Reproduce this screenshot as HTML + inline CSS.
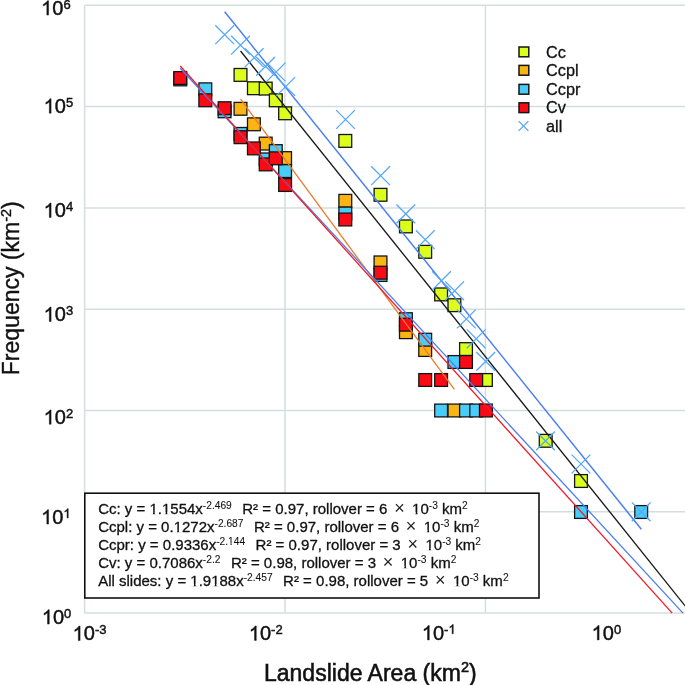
<!DOCTYPE html>
<html><head><meta charset="utf-8"><style>
html,body{margin:0;padding:0;background:#fff;}
svg{display:block;will-change:transform;filter:blur(0.4px);}
</style></head><body>
<svg width="685" height="685" viewBox="0 0 685 685">
<rect width="685" height="685" fill="#fff"/>
<g stroke="#d3dfdd" stroke-width="1.5"><line x1="84.6" y1="613.10" x2="690" y2="613.10"/><line x1="84.6" y1="511.80" x2="690" y2="511.80"/><line x1="84.6" y1="410.50" x2="690" y2="410.50"/><line x1="84.6" y1="309.20" x2="690" y2="309.20"/><line x1="84.6" y1="207.90" x2="690" y2="207.90"/><line x1="84.6" y1="106.60" x2="690" y2="106.60"/><line x1="84.6" y1="5.30" x2="690" y2="5.30"/><line x1="84.60" y1="5.30" x2="84.60" y2="613.10"/><line x1="285.00" y1="5.30" x2="285.00" y2="613.10"/><line x1="485.40" y1="5.30" x2="485.40" y2="613.10"/></g>
<g><rect x="234.10" y="68.50" width="12.8" height="12.8" fill="#dbfe1c" stroke="#151515" stroke-width="1.3"/><rect x="247.50" y="81.85" width="12.8" height="12.8" fill="#dbfe1c" stroke="#151515" stroke-width="1.3"/><rect x="259.30" y="82.20" width="12.8" height="12.8" fill="#dbfe1c" stroke="#151515" stroke-width="1.3"/><rect x="269.40" y="93.90" width="12.8" height="12.8" fill="#dbfe1c" stroke="#151515" stroke-width="1.3"/><rect x="278.70" y="106.90" width="12.8" height="12.8" fill="#dbfe1c" stroke="#151515" stroke-width="1.3"/><rect x="338.90" y="134.50" width="12.8" height="12.8" fill="#dbfe1c" stroke="#151515" stroke-width="1.3"/><rect x="374.10" y="188.40" width="12.8" height="12.8" fill="#dbfe1c" stroke="#151515" stroke-width="1.3"/><rect x="399.50" y="220.00" width="12.8" height="12.8" fill="#dbfe1c" stroke="#151515" stroke-width="1.3"/><rect x="418.80" y="245.40" width="12.8" height="12.8" fill="#dbfe1c" stroke="#151515" stroke-width="1.3"/><rect x="434.70" y="288.00" width="12.8" height="12.8" fill="#dbfe1c" stroke="#151515" stroke-width="1.3"/><rect x="448.00" y="298.80" width="12.8" height="12.8" fill="#dbfe1c" stroke="#151515" stroke-width="1.3"/><rect x="459.60" y="342.70" width="12.8" height="12.8" fill="#dbfe1c" stroke="#151515" stroke-width="1.3"/><rect x="479.50" y="373.60" width="12.8" height="12.8" fill="#dbfe1c" stroke="#151515" stroke-width="1.3"/><rect x="539.30" y="434.40" width="12.8" height="12.8" fill="#dbfe1c" stroke="#151515" stroke-width="1.3"/><rect x="574.60" y="474.60" width="12.8" height="12.8" fill="#dbfe1c" stroke="#151515" stroke-width="1.3"/><rect x="234.10" y="102.40" width="12.8" height="12.8" fill="#fab414" stroke="#151515" stroke-width="1.3"/><rect x="247.50" y="117.90" width="12.8" height="12.8" fill="#fab414" stroke="#151515" stroke-width="1.3"/><rect x="259.30" y="137.20" width="12.8" height="12.8" fill="#fab414" stroke="#151515" stroke-width="1.3"/><rect x="278.70" y="151.70" width="12.8" height="12.8" fill="#fab414" stroke="#151515" stroke-width="1.3"/><rect x="338.90" y="194.40" width="12.8" height="12.8" fill="#fab414" stroke="#151515" stroke-width="1.3"/><rect x="374.10" y="256.00" width="12.8" height="12.8" fill="#fab414" stroke="#151515" stroke-width="1.3"/><rect x="399.50" y="325.80" width="12.8" height="12.8" fill="#fab414" stroke="#151515" stroke-width="1.3"/><rect x="418.80" y="343.60" width="12.8" height="12.8" fill="#fab414" stroke="#151515" stroke-width="1.3"/><rect x="448.00" y="404.10" width="12.8" height="12.8" fill="#fab414" stroke="#151515" stroke-width="1.3"/><rect x="173.85" y="73.00" width="12.8" height="12.8" fill="#48ccf8" stroke="#151515" stroke-width="1.3"/><rect x="198.90" y="82.90" width="12.8" height="12.8" fill="#48ccf8" stroke="#151515" stroke-width="1.3"/><rect x="218.20" y="104.90" width="12.8" height="12.8" fill="#48ccf8" stroke="#151515" stroke-width="1.3"/><rect x="234.10" y="127.50" width="12.8" height="12.8" fill="#48ccf8" stroke="#151515" stroke-width="1.3"/><rect x="259.30" y="153.00" width="12.8" height="12.8" fill="#48ccf8" stroke="#151515" stroke-width="1.3"/><rect x="269.40" y="144.70" width="12.8" height="12.8" fill="#48ccf8" stroke="#151515" stroke-width="1.3"/><rect x="278.70" y="164.70" width="12.8" height="12.8" fill="#48ccf8" stroke="#151515" stroke-width="1.3"/><rect x="338.90" y="207.10" width="12.8" height="12.8" fill="#48ccf8" stroke="#151515" stroke-width="1.3"/><rect x="374.10" y="268.60" width="12.8" height="12.8" fill="#48ccf8" stroke="#151515" stroke-width="1.3"/><rect x="399.50" y="312.80" width="12.8" height="12.8" fill="#48ccf8" stroke="#151515" stroke-width="1.3"/><rect x="418.80" y="333.30" width="12.8" height="12.8" fill="#48ccf8" stroke="#151515" stroke-width="1.3"/><rect x="434.70" y="404.10" width="12.8" height="12.8" fill="#48ccf8" stroke="#151515" stroke-width="1.3"/><rect x="448.00" y="355.60" width="12.8" height="12.8" fill="#48ccf8" stroke="#151515" stroke-width="1.3"/><rect x="459.60" y="404.10" width="12.8" height="12.8" fill="#48ccf8" stroke="#151515" stroke-width="1.3"/><rect x="469.80" y="404.10" width="12.8" height="12.8" fill="#48ccf8" stroke="#151515" stroke-width="1.3"/><rect x="574.60" y="505.60" width="12.8" height="12.8" fill="#48ccf8" stroke="#151515" stroke-width="1.3"/><rect x="634.80" y="505.60" width="12.8" height="12.8" fill="#48ccf8" stroke="#151515" stroke-width="1.3"/><rect x="173.85" y="71.60" width="12.8" height="12.8" fill="#fa0a14" stroke="#151515" stroke-width="1.3"/><rect x="198.90" y="93.90" width="12.8" height="12.8" fill="#fa0a14" stroke="#151515" stroke-width="1.3"/><rect x="218.20" y="101.80" width="12.8" height="12.8" fill="#fa0a14" stroke="#151515" stroke-width="1.3"/><rect x="234.10" y="130.80" width="12.8" height="12.8" fill="#fa0a14" stroke="#151515" stroke-width="1.3"/><rect x="247.50" y="142.00" width="12.8" height="12.8" fill="#fa0a14" stroke="#151515" stroke-width="1.3"/><rect x="259.30" y="158.00" width="12.8" height="12.8" fill="#fa0a14" stroke="#151515" stroke-width="1.3"/><rect x="269.40" y="151.90" width="12.8" height="12.8" fill="#fa0a14" stroke="#151515" stroke-width="1.3"/><rect x="278.70" y="178.60" width="12.8" height="12.8" fill="#fa0a14" stroke="#151515" stroke-width="1.3"/><rect x="338.90" y="213.10" width="12.8" height="12.8" fill="#fa0a14" stroke="#151515" stroke-width="1.3"/><rect x="374.10" y="266.30" width="12.8" height="12.8" fill="#fa0a14" stroke="#151515" stroke-width="1.3"/><rect x="399.50" y="318.30" width="12.8" height="12.8" fill="#fa0a14" stroke="#151515" stroke-width="1.3"/><rect x="418.80" y="373.60" width="12.8" height="12.8" fill="#fa0a14" stroke="#151515" stroke-width="1.3"/><rect x="434.70" y="373.60" width="12.8" height="12.8" fill="#fa0a14" stroke="#151515" stroke-width="1.3"/><rect x="459.60" y="355.60" width="12.8" height="12.8" fill="#fa0a14" stroke="#151515" stroke-width="1.3"/><rect x="469.80" y="373.60" width="12.8" height="12.8" fill="#fa0a14" stroke="#151515" stroke-width="1.3"/><rect x="479.50" y="404.10" width="12.8" height="12.8" fill="#fa0a14" stroke="#151515" stroke-width="1.3"/></g>
<g><line x1="240.54" y1="51.04" x2="701.67" y2="626.55" stroke="#1a1a1a" stroke-width="1.35"/><line x1="240.54" y1="99.04" x2="454.36" y2="389.46" stroke="#f07a2c" stroke-width="1.3"/><line x1="180.22" y1="68.19" x2="683.01" y2="613.10" stroke="#4a7ef0" stroke-width="1.3"/><line x1="180.22" y1="66.01" x2="672.17" y2="613.10" stroke="#ee1c2a" stroke-width="1.3"/><line x1="224.67" y1="11.72" x2="641.34" y2="529.21" stroke="#4a7ef2" stroke-width="1.5"/></g>
<g stroke="#55a8f8" stroke-width="1.3" fill="none"><path d="M215.30 25.30L234.10 44.10M215.30 44.10L234.10 25.30"/><path d="M231.10 35.80L249.90 54.60M231.10 54.60L249.90 35.80"/><path d="M244.80 48.30L263.60 67.10M244.80 67.10L263.60 48.30"/><path d="M256.20 57.00L275.00 75.80M256.20 75.80L275.00 57.00"/><path d="M266.70 62.60L285.50 81.40M266.70 81.40L285.50 62.60"/><path d="M276.30 77.10L295.10 95.90M276.30 95.90L295.10 77.10"/><path d="M336.10 110.10L354.90 128.90M336.10 128.90L354.90 110.10"/><path d="M371.20 166.30L390.00 185.10M371.20 185.10L390.00 166.30"/><path d="M396.40 204.50L415.20 223.30M396.40 223.30L415.20 204.50"/><path d="M415.90 230.30L434.70 249.10M415.90 249.10L434.70 230.30"/><path d="M432.10 271.30L450.90 290.10M432.10 290.10L450.90 271.30"/><path d="M445.20 281.40L464.00 300.20M445.20 300.20L464.00 281.40"/><path d="M456.90 309.60L475.70 328.40M456.90 328.40L475.70 309.60"/><path d="M466.80 329.40L485.60 348.20M466.80 348.20L485.60 329.40"/><path d="M476.30 352.00L495.10 370.80M476.30 370.80L495.10 352.00"/><path d="M536.10 431.50L554.90 450.30M536.10 450.30L554.90 431.50"/><path d="M571.60 454.60L590.40 473.40M571.60 473.40L590.40 454.60"/><path d="M631.80 502.40L650.60 521.20M631.80 521.20L650.60 502.40"/></g>
<rect x="84.8" y="493.2" width="454.2" height="104.8" fill="#fff" stroke="#111" stroke-width="1.6"/>
<g fill="#111" stroke="#111" stroke-width="0.3"><text x="98.2" y="514.00" style="font-family:'Liberation Sans',sans-serif;font-size:15px" xml:space="preserve">Cc: y = 1.1554x<tspan dy="-5" style="font-size:10.2px;stroke-width:0.08">-2.469</tspan><tspan dy="5" dx="2.2">  R² = 0.97, rollover = 6 </tspan><tspan dx="2.6" style="font-size:18px;fill:#222;stroke:none">×</tspan><tspan dx="3.3"> 10</tspan><tspan dy="-5" style="font-size:10.2px;stroke-width:0.08">-3</tspan><tspan dy="5"> km</tspan><tspan dy="-5" style="font-size:10.2px;stroke-width:0.08">2</tspan></text><text x="98.2" y="531.95" style="font-family:'Liberation Sans',sans-serif;font-size:15px" xml:space="preserve">Ccpl: y = 0.1272x<tspan dy="-5" style="font-size:10.2px;stroke-width:0.08">-2.687</tspan><tspan dy="5" dx="2.2">  R² = 0.97, rollover = 6 </tspan><tspan dx="2.6" style="font-size:18px;fill:#222;stroke:none">×</tspan><tspan dx="3.3"> 10</tspan><tspan dy="-5" style="font-size:10.2px;stroke-width:0.08">-3</tspan><tspan dy="5"> km</tspan><tspan dy="-5" style="font-size:10.2px;stroke-width:0.08">2</tspan></text><text x="98.2" y="549.90" style="font-family:'Liberation Sans',sans-serif;font-size:15px" xml:space="preserve">Ccpr: y = 0.9336x<tspan dy="-5" style="font-size:10.2px;stroke-width:0.08">-2.144</tspan><tspan dy="5" dx="2.2">  R² = 0.97, rollover = 3 </tspan><tspan dx="2.6" style="font-size:18px;fill:#222;stroke:none">×</tspan><tspan dx="3.3"> 10</tspan><tspan dy="-5" style="font-size:10.2px;stroke-width:0.08">-3</tspan><tspan dy="5"> km</tspan><tspan dy="-5" style="font-size:10.2px;stroke-width:0.08">2</tspan></text><text x="98.2" y="567.85" style="font-family:'Liberation Sans',sans-serif;font-size:15px" xml:space="preserve">Cv: y = 0.7086x<tspan dy="-5" style="font-size:10.2px;stroke-width:0.08">-2.2</tspan><tspan dy="5" dx="2.2">  R² = 0.98, rollover = 3 </tspan><tspan dx="2.6" style="font-size:18px;fill:#222;stroke:none">×</tspan><tspan dx="3.3"> 10</tspan><tspan dy="-5" style="font-size:10.2px;stroke-width:0.08">-3</tspan><tspan dy="5"> km</tspan><tspan dy="-5" style="font-size:10.2px;stroke-width:0.08">2</tspan></text><text x="98.2" y="585.80" style="font-family:'Liberation Sans',sans-serif;font-size:15px" xml:space="preserve">All slides: y = 1.9188x<tspan dy="-5" style="font-size:10.2px;stroke-width:0.08">-2.457</tspan><tspan dy="5" dx="2.2">  R² = 0.98, rollover = 5 </tspan><tspan dx="2.6" style="font-size:18px;fill:#222;stroke:none">×</tspan><tspan dx="3.3"> 10</tspan><tspan dy="-5" style="font-size:10.2px;stroke-width:0.08">-3</tspan><tspan dy="5"> km</tspan><tspan dy="-5" style="font-size:10.2px;stroke-width:0.08">2</tspan></text></g>
<g><rect x="149.85" y="512.13" width="3.18" height="2.62" fill="#fff"/><rect x="154.76" y="512.13" width="3.06" height="2.62" fill="#fff"/><rect x="162.37" y="512.13" width="3.18" height="2.62" fill="#fff"/><rect x="167.27" y="512.13" width="3.06" height="2.62" fill="#fff"/><rect x="412.50" y="512.13" width="3.18" height="2.62" fill="#fff"/><rect x="417.40" y="512.13" width="3.06" height="2.62" fill="#fff"/><rect x="174.04" y="530.08" width="3.18" height="2.62" fill="#fff"/><rect x="178.95" y="530.08" width="3.06" height="2.62" fill="#fff"/><rect x="424.17" y="530.08" width="3.18" height="2.62" fill="#fff"/><rect x="429.08" y="530.08" width="3.06" height="2.62" fill="#fff"/><rect x="228.11" y="543.39" width="2.32" height="2.26" fill="#fff"/><rect x="231.73" y="543.39" width="2.24" height="2.26" fill="#fff"/><rect x="425.83" y="548.03" width="3.18" height="2.62" fill="#fff"/><rect x="430.73" y="548.03" width="3.06" height="2.62" fill="#fff"/><rect x="401.17" y="565.98" width="3.18" height="2.62" fill="#fff"/><rect x="406.08" y="565.98" width="3.06" height="2.62" fill="#fff"/><rect x="190.71" y="583.93" width="3.18" height="2.62" fill="#fff"/><rect x="195.62" y="583.93" width="3.06" height="2.62" fill="#fff"/><rect x="211.57" y="583.93" width="3.17" height="2.62" fill="#fff"/><rect x="216.47" y="583.93" width="3.06" height="2.62" fill="#fff"/><rect x="453.34" y="583.93" width="3.18" height="2.62" fill="#fff"/><rect x="458.25" y="583.93" width="3.06" height="2.62" fill="#fff"/></g>
<g fill="#111" stroke="#111" stroke-width="0.3"><rect x="519.0" y="47.00" width="9.8" height="9.8" fill="#dbfe1c" stroke="#151515" stroke-width="1.5"/><text x="546.0" y="57.50" style="font-family:'Liberation Sans',sans-serif;font-size:16.3px">Cc</text><rect x="519.0" y="65.40" width="9.8" height="9.8" fill="#fab414" stroke="#151515" stroke-width="1.5"/><text x="546.0" y="75.90" style="font-family:'Liberation Sans',sans-serif;font-size:16.3px">Ccpl</text><rect x="519.0" y="84.40" width="9.8" height="9.8" fill="#48ccf8" stroke="#151515" stroke-width="1.5"/><text x="546.0" y="94.90" style="font-family:'Liberation Sans',sans-serif;font-size:16.3px">Ccpr</text><rect x="519.0" y="102.80" width="9.8" height="9.8" fill="#fa0a14" stroke="#151515" stroke-width="1.5"/><text x="546.0" y="113.30" style="font-family:'Liberation Sans',sans-serif;font-size:16.3px">Cv</text><path d="M518.6 121.10L528.4 130.90M518.6 130.90L528.4 121.10" stroke="#55a8f8" stroke-width="1.3"/><text x="546.0" y="132.30" style="font-family:'Liberation Sans',sans-serif;font-size:16.3px">all</text></g>
<g fill="#111" stroke="#111" stroke-width="0.45"><path d="M48.58 15.07L46.83 15.07L46.83 3.87Q46.19 4.48 45.16 5.08Q44.12 5.69 43.30 5.99L43.30 4.29Q44.77 3.60 45.88 2.61Q46.98 1.63 47.44 0.70L48.58 0.70Z"/><text x="52.25" y="15.07" style="font-family:'Liberation Sans',sans-serif;font-size:20px">0</text><text x="63.38" y="8.97" style="font-family:'Liberation Sans',sans-serif;font-size:13.00px">6</text><path d="M51.08 113.17L49.33 113.17L49.33 101.97Q48.69 102.58 47.66 103.18Q46.62 103.79 45.80 104.09L45.80 102.39Q47.27 101.70 48.38 100.71Q49.48 99.73 49.94 98.80L51.08 98.80Z"/><text x="54.75" y="113.17" style="font-family:'Liberation Sans',sans-serif;font-size:20px">0</text><text x="65.88" y="107.08" style="font-family:'Liberation Sans',sans-serif;font-size:13.00px">5</text><path d="M51.08 217.38L49.33 217.38L49.33 206.17Q48.69 206.78 47.66 207.38Q46.62 207.99 45.80 208.29L45.80 206.59Q47.27 205.90 48.38 204.91Q49.48 203.93 49.94 203.00L51.08 203.00Z"/><text x="54.75" y="217.38" style="font-family:'Liberation Sans',sans-serif;font-size:20px">0</text><text x="65.88" y="211.28" style="font-family:'Liberation Sans',sans-serif;font-size:13.00px">4</text><path d="M51.08 321.48L49.33 321.48L49.33 310.27Q48.69 310.88 47.66 311.48Q46.62 312.09 45.80 312.39L45.80 310.69Q47.27 310.00 48.38 309.01Q49.48 308.03 49.94 307.10L51.08 307.10Z"/><text x="54.75" y="321.48" style="font-family:'Liberation Sans',sans-serif;font-size:20px">0</text><text x="65.88" y="315.38" style="font-family:'Liberation Sans',sans-serif;font-size:13.00px">3</text><path d="M51.08 424.27L49.33 424.27L49.33 413.07Q48.69 413.68 47.66 414.28Q46.62 414.89 45.80 415.19L45.80 413.49Q47.27 412.80 48.38 411.81Q49.48 410.83 49.94 409.90L51.08 409.90Z"/><text x="54.75" y="424.27" style="font-family:'Liberation Sans',sans-serif;font-size:20px">0</text><text x="65.88" y="418.17" style="font-family:'Liberation Sans',sans-serif;font-size:13.00px">2</text><path d="M48.58 524.08L46.83 524.08L46.83 512.87Q46.19 513.48 45.16 514.08Q44.12 514.69 43.30 514.99L43.30 513.29Q44.77 512.60 45.88 511.61Q46.98 510.63 47.44 509.70L48.58 509.70Z"/><text x="52.25" y="524.08" style="font-family:'Liberation Sans',sans-serif;font-size:20px">0</text><path d="M68.22 517.98L67.08 517.98L67.08 510.69Q66.67 511.09 65.99 511.48Q65.32 511.87 64.79 512.07L64.79 510.97Q65.75 510.52 66.46 509.88Q67.18 509.23 67.48 508.63L68.22 508.63Z"/><path d="M49.28 624.08L47.53 624.08L47.53 612.87Q46.89 613.48 45.86 614.08Q44.82 614.69 44.00 614.99L44.00 613.29Q45.47 612.60 46.58 611.61Q47.68 610.63 48.14 609.70L49.28 609.70Z"/><text x="52.95" y="624.08" style="font-family:'Liberation Sans',sans-serif;font-size:20px">0</text><text x="64.08" y="617.98" style="font-family:'Liberation Sans',sans-serif;font-size:13.00px">0</text><path d="M80.08 640.48L78.33 640.48L78.33 629.27Q77.69 629.88 76.66 630.48Q75.62 631.09 74.80 631.39L74.80 629.69Q76.27 629.00 77.38 628.01Q78.48 627.03 78.94 626.10L80.08 626.10Z"/><text x="83.75" y="640.48" style="font-family:'Liberation Sans',sans-serif;font-size:20px">0</text><text x="94.88" y="634.38" style="font-family:'Liberation Sans',sans-serif;font-size:13.00px">-3</text><path d="M256.28 640.38L254.53 640.38L254.53 629.17Q253.89 629.78 252.86 630.38Q251.82 630.99 251.00 631.29L251.00 629.59Q252.47 628.90 253.58 627.91Q254.68 626.93 255.14 626.00L256.28 626.00Z"/><text x="259.95" y="640.38" style="font-family:'Liberation Sans',sans-serif;font-size:20px">0</text><text x="271.08" y="634.27" style="font-family:'Liberation Sans',sans-serif;font-size:13.00px">-2</text><path d="M429.28 639.88L427.53 639.88L427.53 628.67Q426.89 629.28 425.86 629.88Q424.82 630.49 424.00 630.79L424.00 629.09Q425.47 628.40 426.58 627.41Q427.68 626.43 428.14 625.50L429.28 625.50Z"/><text x="432.95" y="639.88" style="font-family:'Liberation Sans',sans-serif;font-size:20px">0</text><text x="444.08" y="633.77" style="font-family:'Liberation Sans',sans-serif;font-size:13.00px">-</text><path d="M453.25 633.77L452.11 633.77L452.11 626.49Q451.70 626.89 451.02 627.28Q450.35 627.67 449.82 627.87L449.82 626.77Q450.77 626.32 451.49 625.68Q452.21 625.03 452.51 624.43L453.25 624.43Z"/><path d="M599.08 639.88L597.33 639.88L597.33 628.67Q596.69 629.28 595.66 629.88Q594.62 630.49 593.80 630.79L593.80 629.09Q595.27 628.40 596.38 627.41Q597.48 626.43 597.94 625.50L599.08 625.50Z"/><text x="602.75" y="639.88" style="font-family:'Liberation Sans',sans-serif;font-size:20px">0</text><text x="613.88" y="633.77" style="font-family:'Liberation Sans',sans-serif;font-size:13.00px">0</text></g>
<text transform="translate(18.9,375.2) rotate(-90)" style="font-family:'Liberation Sans',sans-serif;font-size:23px" fill="#111" stroke="#111" stroke-width="0.4">Frequency (km<tspan dy="-8" style="font-size:14.5px">-2</tspan><tspan dy="8">)</tspan></text>
<text x="264" y="680.7" style="font-family:'Liberation Sans',sans-serif;font-size:23px" fill="#111" stroke="#111" stroke-width="0.55">Landslide Area (km<tspan dy="-9" style="font-size:14.5px">2</tspan><tspan dy="9">)</tspan></text>
</svg>
</body></html>
